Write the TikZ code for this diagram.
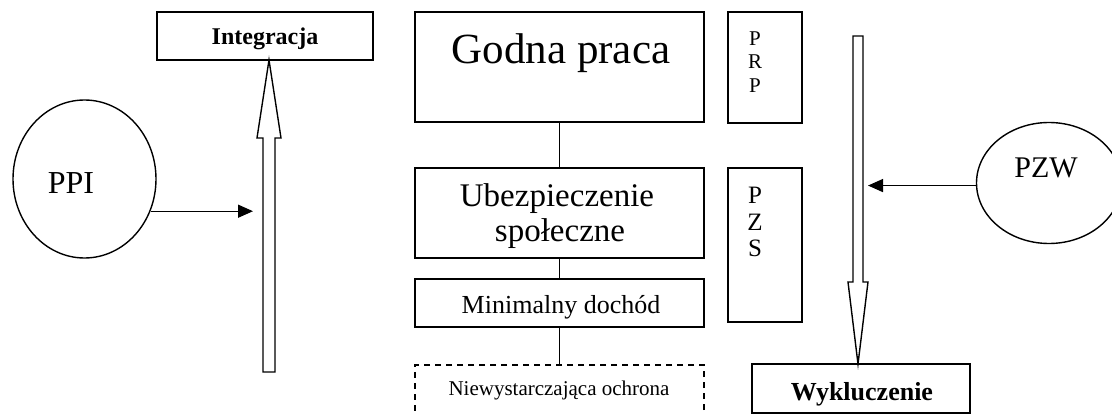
\documentclass[tikz,border=0pt]{standalone}
\usepackage{fontspec}
\setmainfont{Liberation Serif}
\usetikzlibrary{calc,shapes.geometric,arrows.meta}
\tikzset{
  box/.style={draw, line width=1.4pt, inner sep=0pt, rectangle},
  dashbox/.style={box, dash pattern=on 6pt off 5pt},
  lbl/.style={inner sep=0pt, anchor=base},
  conn/.style={line width=1.4pt},
  hollow/.style={draw, line width=1.4pt, fill=white, line join=miter},
  ptr/.style={line width=1.4pt, -{Triangle[length=15pt,width=13pt]}},
  oval/.style={draw, ellipse, line width=1.4pt, inner sep=0pt},
  fs/.style={font=\fontsize{#1}{#1}\selectfont},
  fsb/.style={font=\fontsize{#1}{#1}\selectfont\bfseries}
}
\begin{document}
\begin{tikzpicture}[x=1pt,y=-1pt]
\useasboundingbox (0,0) rectangle (1112,414);
\clip (0,0) rectangle (1112,414);

% boxes
\node[box, minimum width=216, minimum height=48] (integ) at (265,36) {};
\node[lbl, fsb=24] (integT) at (265,45) {Integracja};

\node[box, minimum width=289, minimum height=110] (godna) at (559.5,67) {};
\node[lbl, fs=43] (godnaT) at (561,64) {Godna praca};

\node[box, minimum width=289, minimum height=90] (ubez) at (559.5,213) {};
\node[lbl, fs=33] (ubezT1) at (557,207) {Ubezpieczenie};
\node[lbl, fs=33] (ubezT2) at (560,242) {społeczne};

\node[box, minimum width=289, minimum height=48] (minim) at (559.5,303) {};
\node[lbl, fs=26] (minimT) at (561,313) {Minimalny dochód};

\node[dashbox, minimum width=289, minimum height=75] (niew) at (559.5,402.5) {};
\node[lbl, fs=21] (niewT) at (559,395) {Niewystarczająca ochrona};

\node[box, minimum width=74, minimum height=111] (prp) at (765,67.5) {};
\node[inner sep=0pt, align=center, font=\fontsize{21}{23.5}\selectfont] (prpT) at (755,62) {P\\R\\P};

\node[box, minimum width=74, minimum height=154] (pzs) at (765,245) {};
\node[inner sep=0pt, align=center, font=\fontsize{25}{26.5}\selectfont] (pzsT) at (755,222) {P\\Z\\S};

\node[box, minimum width=218, minimum height=49] (wyk) at (861,388.5) {};
\node[lbl, fsb=26] (wykT) at (862,400) {Wykluczenie};

% ellipses
\node[oval, minimum width=143, minimum height=158] (ppi) at (84.5,179) {};
\node[lbl, fs=32] (ppiT) at (71,194) {PPI};

\node[oval, minimum width=145, minimum height=121] (pzw) at (1049,183) {};
\node[lbl, fs=30] (pzwT) at (1046,178) {PZW};

% connectors
\draw[conn] (godna.south) -- (ubez.north);
\draw[conn] (ubez.south) -- (minim.north);
\draw[conn] (minim.south) -- (niew.north);

% hollow arrows
\coordinate (upTip) at (269,60);
\draw[hollow] (upTip) -- (281,138) -- (275,138) -- (275,372) -- (263,372) -- (263,138) -- (257,138) -- cycle;
\coordinate (downTip) at (858,364);
\draw[hollow] (853,36) -- (863,36) -- (863,282) -- (868,282) -- (downTip) -- (848,282) -- (853,282) -- cycle;

% pointer arrows
\coordinate (ppiTip) at (253,211);
\draw[ptr] (ppi.-26) -- (ppi.-26 -| ppiTip);
\coordinate (pzwTip) at (868,186);
\draw[ptr] (pzw.182) -- (pzw.182 -| pzwTip);
\end{tikzpicture}
\end{document}
